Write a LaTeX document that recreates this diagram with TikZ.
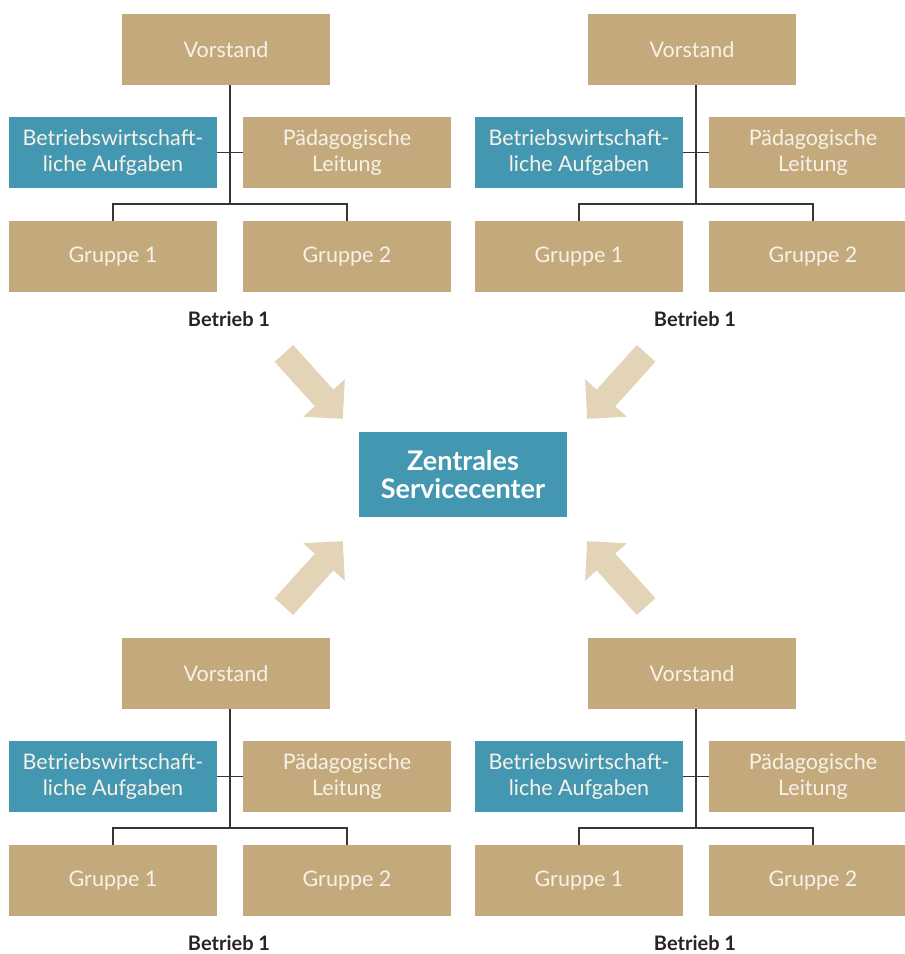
\documentclass[tikz,border=0pt]{standalone}
\usepackage{fontspec}
\setmainfont{Lato}
\definecolor{sand}{HTML}{C4A97D}
\definecolor{petrol}{HTML}{4397B1}
\definecolor{beige}{HTML}{E3D4B8}
\definecolor{linie}{HTML}{3B3431}
\definecolor{hell}{HTML}{F7F2E8}
\definecolor{titel}{HTML}{2A2421}

\tikzset{
  kasten/.style={fill=sand, text=hell, minimum width=208pt, minimum height=71pt,
    inner sep=0pt, align=center, font=\fontsize{21.5}{26}\selectfont},
  bwlkasten/.style={kasten, fill=petrol},
  orglinie/.style={linie, line width=1.3pt},
  betrieblabel/.style={text=titel, inner sep=0pt, font=\fontsize{20}{24}\bfseries\selectfont},
  zuleitung/.pic={
    \fill[beige] (0,0) -- (-28,28) -- (-28,12.5) -- (-88,12.5) -- (-88,-12.5)
      -- (-28,-12.5) -- (-28,-28) -- cycle;
  }
}

\begin{document}
\begin{tikzpicture}[x=1pt, y=1pt]
\useasboundingbox (0,0) rectangle (905,954);
% Vier Betriebe, jeweils mit Vorstand, Leitung und Gruppen
\foreach \dx/\dy/\n in {0/0/a, 466/0/b, 0/-624/c, 466/-624/d}{
  \begin{scope}[shift={(\dx,\dy)}]
    \node[kasten] (vorstand\n) at (226,904.5) {Vorstand};
    \node[bwlkasten] (bwl\n) at (113,801.5) {Betriebswirtschaft-\\liche Aufgaben};
    \node[kasten] (paed\n) at (347,801.5) {Pädagogische\\Leitung};
    \node[kasten] (gruppeeins\n) at (113,697.5) {Gruppe 1};
    \node[kasten] (gruppezwei\n) at (347,697.5) {Gruppe 2};
    \node[betrieblabel] (betrieb\n) at (229,635) {Betrieb 1};
    \coordinate (knoten\n) at (230,750);
    % Verbindungslinien
    \draw[orglinie] (vorstand\n.south -| knoten\n) -- (knoten\n);
    \draw[orglinie] (bwl\n.east) -- (paed\n.west);
    \draw[orglinie] (gruppeeins\n.north) |- (knoten\n) -| (gruppezwei\n.north);
  \end{scope}
}
% Zentrales Servicecenter in der Mitte
\node[bwlkasten, minimum height=85pt, text=white,
  font=\fontsize{27}{27.5}\bfseries\selectfont] (zentrale) at (463,479.5)
  {Zentrales\\Servicecenter};
% Pfeile zur Zentrale
\pic[rotate=-48] at ([shift={(-16,13)}]zentrale.north west) {zuleitung};
\pic[rotate=-132] at ([shift={(20,13)}]zentrale.north east) {zuleitung};
\pic[rotate=48] at ([shift={(-16,-24)}]zentrale.south west) {zuleitung};
\pic[rotate=132] at ([shift={(20,-24)}]zentrale.south east) {zuleitung};
\end{tikzpicture}
\end{document}
